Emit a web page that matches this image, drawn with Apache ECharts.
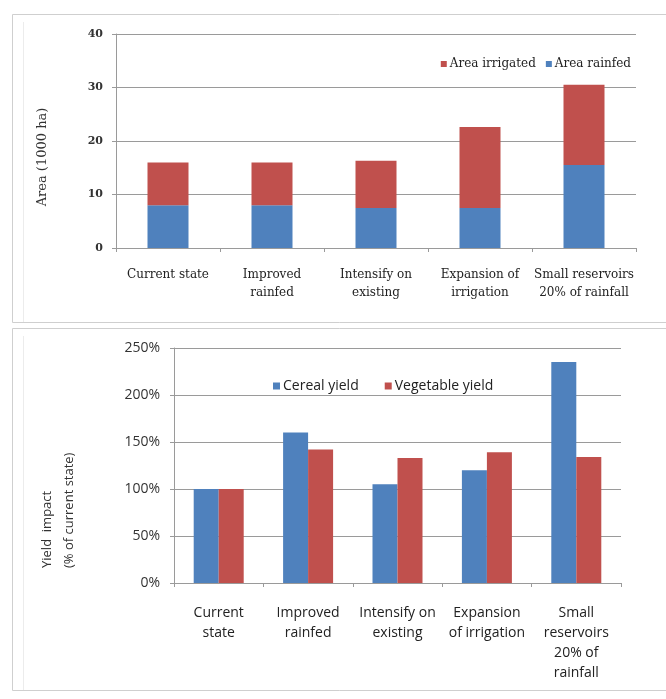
<!DOCTYPE html>
<html>
<head>
<meta charset="utf-8">
<script src="https://cdn.jsdelivr.net/npm/echarts@6/dist/echarts.min.js"></script>
<style>
html,body{margin:0;padding:0;background:#fff;}
#c{width:666px;height:699px;}
</style>
</head>
<body>
<div id="c"></div>
<script>
// ---- Top chart data ----
const areaCategories = ['Current state', 'Improved\nrainfed', 'Intensify on\nexisting', 'Expansion of\nirrigation', 'Small reservoirs\n20% of rainfall'];
const areaRainfed = [8, 8, 7.5, 7.5, 15.5];
const areaIrrigated = [8, 8, 8.8, 15.1, 15];
const areaTicks = [0, 10, 20, 30, 40];

// ---- Bottom chart data ----
const yieldCategories = ['Current\nstate', 'Improved\nrainfed', 'Intensify on\nexisting', 'Expansion\nof irrigation', 'Small\nreservoirs\n20% of\nrainfall'];
const cerealYield = [100, 160, 105, 120, 235];
const vegetableYield = [100, 142, 133, 139, 134];
const yieldTicks = ['0%', '50%', '100%', '150%', '200%', '250%'];

const BLUE = '#4f81bd';
const RED = '#c0504d';
const GRID = '#9a9a9a';
const serif = 'DejaVu Serif';
const sans = 'Open Sans';

const chart = echarts.init(document.getElementById('c'), null, {renderer: 'canvas'});
chart.setOption({
  animation: false,
  backgroundColor: '#fff',
  graphic: [
    {type: 'rect', shape: {x: 12.5, y: 14.5, width: 700, height: 308}, style: {fill: 'none', stroke: '#cfcfcf', lineWidth: 1}},
    {type: 'line', shape: {x1: 23.5, y1: 22, x2: 23.5, y2: 322}, style: {stroke: '#ececec', lineWidth: 1}},
    {type: 'rect', shape: {x: 12.5, y: 328.5, width: 700, height: 362}, style: {fill: 'none', stroke: '#cfcfcf', lineWidth: 1}},
    {type: 'line', shape: {x1: 23.5, y1: 336, x2: 23.5, y2: 690}, style: {stroke: '#ececec', lineWidth: 1}},
    {type: 'text', x: 43, y: 157, rotation: Math.PI / 2,
      style: {text: 'Area (1000 ha)', font: '13px "DejaVu Serif"', fill: '#333', align: 'center', verticalAlign: 'middle'}},
    {type: 'text', x: 58, y: 568, rotation: Math.PI / 2,
      style: {text: 'Yield  impact\n(% of current state)', font: '13px "Open Sans"', lineHeight: 22, fill: '#333', align: 'left', verticalAlign: 'middle'}}
  ],
  legend: [
    {
      data: ['Area irrigated', 'Area rainfed'],
      right: 30, top: 53,
      icon: 'rect', itemWidth: 6, itemHeight: 6, itemGap: 10,
      textStyle: {fontFamily: serif, fontSize: 12, color: '#222', padding: [0, 0, 0, -2]}
    },
    {
      data: ['Cereal yield', 'Vegetable yield'],
      left: 268, top: 374,
      icon: 'rect', itemWidth: 7, itemHeight: 7, itemGap: 26,
      textStyle: {fontFamily: sans, fontSize: 14, color: '#222', padding: [0, 0, 0, -2]}
    }
  ],
  grid: [
    {left: 116, top: 34, right: 30, height: 214},
    {left: 174, top: 348, right: 45, height: 235}
  ],
  xAxis: [
    {
      type: 'category', gridIndex: 0, data: areaCategories,
      axisLine: {lineStyle: {color: GRID}},
      axisTick: {show: true, length: 4, lineStyle: {color: GRID}},
      axisLabel: {fontFamily: serif, fontSize: 12, color: '#222', lineHeight: 18, margin: 18, interval: 0}
    },
    {
      type: 'category', gridIndex: 1, data: yieldCategories,
      axisLine: {lineStyle: {color: GRID}},
      axisTick: {show: true, length: 4, lineStyle: {color: GRID}},
      axisLabel: {fontFamily: sans, fontSize: 14, color: '#222', lineHeight: 20, margin: 20, interval: 0}
    }
  ],
  yAxis: [
    {
      type: 'value', gridIndex: 0, min: 0, max: 40, interval: 10,
      axisLine: {show: true, lineStyle: {color: GRID}},
      axisTick: {show: true, length: 4, lineStyle: {color: GRID}},
      splitLine: {lineStyle: {color: GRID}},
      axisLabel: {fontFamily: serif, fontSize: 11, fontWeight: 'bold', color: '#333', margin: 13,
        formatter: v => String(areaTicks[areaTicks.indexOf(v)])}
    },
    {
      type: 'value', gridIndex: 1, min: 0, max: 250, interval: 50,
      axisLine: {show: true, lineStyle: {color: GRID}},
      axisTick: {show: true, length: 4, lineStyle: {color: GRID}},
      splitLine: {lineStyle: {color: GRID}},
      axisLabel: {fontFamily: sans, fontSize: 14, color: '#333', margin: 14,
        formatter: v => yieldTicks[Math.round(v / 50)]}
    }
  ],
  series: [
    {name: 'Area rainfed', type: 'bar', stack: 'area', xAxisIndex: 0, yAxisIndex: 0, data: areaRainfed, barWidth: 41, itemStyle: {color: BLUE}},
    {name: 'Area irrigated', type: 'bar', stack: 'area', xAxisIndex: 0, yAxisIndex: 0, data: areaIrrigated, barWidth: 41, itemStyle: {color: RED}},
    {name: 'Cereal yield', type: 'bar', xAxisIndex: 1, yAxisIndex: 1, data: cerealYield, barWidth: 25, barGap: '0%', itemStyle: {color: BLUE}},
    {name: 'Vegetable yield', type: 'bar', xAxisIndex: 1, yAxisIndex: 1, data: vegetableYield, barWidth: 25, barGap: '0%', itemStyle: {color: RED}}
  ]
});
</script>
</body>
</html>
